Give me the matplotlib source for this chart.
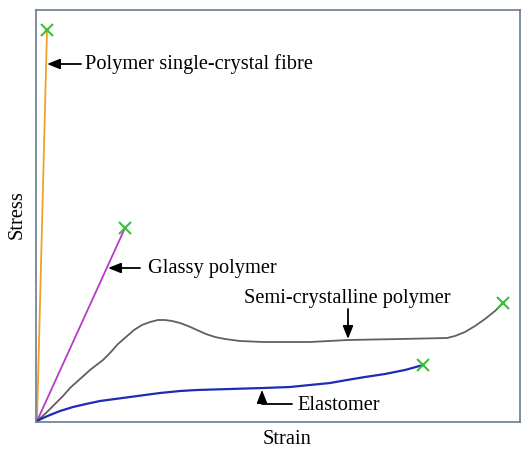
import matplotlib
matplotlib.use("Agg")
import matplotlib.pyplot as plt

plt.rcParams['font.family'] = ['Liberation Serif', 'DejaVu Serif']

# curves in arbitrary strain/stress units (origin at bottom-left)
fibre_x = [1, 11]
fibre_y = [1, 392]

glassy_x = [1, 89]
glassy_y = [1, 194]

semi_x = [1, 10, 19, 27, 34, 44, 54, 67, 74, 82, 90, 98, 106, 114, 122, 129, 136, 144,
          152, 161, 170, 179, 189, 204, 227, 254, 274, 312, 364, 411, 419, 429, 439, 449, 459, 467]
semi_y = [1, 9, 18, 26, 34, 43, 52, 62, 69, 78, 85, 92, 97, 100, 102, 102, 101, 99,
          96, 92, 88, 85, 83, 81, 80, 80, 80, 82, 83, 84, 86, 90, 96, 103, 111, 119]

elast_x = [1, 7, 14, 24, 37, 50, 64, 79, 94, 109, 124, 144, 161, 194, 227, 254, 274,
           294, 311, 329, 349, 369, 387]
elast_y = [1, 4, 7, 11, 15, 18, 21, 23, 25, 27, 29, 31, 32, 33, 34, 35, 37,
           39, 42, 45, 48, 52, 57]

fig = plt.figure(figsize=(5.28, 4.5), dpi=100)
ax = fig.add_axes([36 / 528, 28 / 450, 484 / 528, 412 / 450])

ax.plot(fibre_x, fibre_y, color='#f0a028', lw=1.3)
ax.plot(glassy_x, glassy_y, color='#b83ac8', lw=1.3)
ax.plot(semi_x, semi_y, color='#606060', lw=1.3)
ax.plot(elast_x, elast_y, color='#1c2cb4', lw=1.6)

# fracture points
ends_x = [fibre_x[-1], glassy_x[-1], semi_x[-1], elast_x[-1]]
ends_y = [fibre_y[-1], glassy_y[-1], semi_y[-1], elast_y[-1]]
ax.plot(ends_x, ends_y, 'x', color='#3cc03c', ms=8, mew=1.5)

arrow = dict(arrowstyle='-|>,head_length=0.55,head_width=0.22', color='black', lw=1.3,
             mutation_scale=14, shrinkA=0, shrinkB=0)
fs = 14.7

ax.annotate('', xy=(11, 358), xytext=(45, 358), arrowprops=arrow)
ax.text(49, 358, 'Polymer single-crystal fibre', fontsize=fs, va='center', ha='left')

ax.annotate('', xy=(72, 154), xytext=(104, 154), arrowprops=arrow)
ax.text(112, 154, 'Glassy polymer', fontsize=fs, va='center', ha='left')

ax.annotate('', xy=(312, 83), xytext=(312, 113), arrowprops=arrow)
ax.text(311, 124, 'Semi-crystalline polymer', fontsize=fs, va='center', ha='center')

ax.annotate('', xy=(226, 32), xytext=(256, 18),
            arrowprops=dict(arrow, connectionstyle='angle,angleA=0,angleB=90,rad=0'))
ax.text(261, 17, 'Elastomer', fontsize=fs, va='center', ha='left')

ax.set_xlim(0, 484)
ax.set_ylim(0, 412)
ax.set_xticks([])
ax.set_yticks([])
for s in ax.spines.values():
    s.set_color('#6a7a8c')
    s.set_linewidth(1.2)

fig.text(287 / 528, 1 - 440 / 450, 'Strain', fontsize=fs, ha='center', va='center')
fig.text(17 / 528, 1 - 215 / 450, 'Stress', fontsize=fs, ha='center', va='center', rotation=90)

fig.savefig('out.png', dpi=100)
